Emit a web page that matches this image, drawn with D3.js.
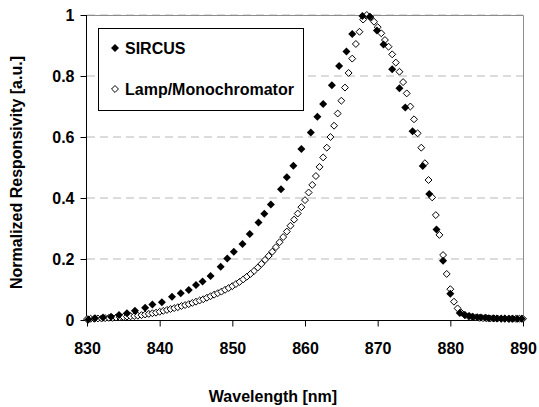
<!DOCTYPE html>
<html>
<head>
<meta charset="utf-8">
<script src="https://cdn.jsdelivr.net/npm/d3@7"></script>
<style>
  body { margin: 0; background: #fff; }
  text { font-family: "Liberation Sans", Arial, sans-serif; font-weight: bold; fill: #000; }
</style>
</head>
<body>
<svg id="chart"></svg>
<script>
// SIRCUS measurement (wavelength nm, normalized responsivity)
const sircusWavelengths = [
  830.2, 831.1, 832.2, 833.3, 834.4, 835.5, 836.6, 838.0, 839.0, 840.3,
  841.7, 842.9, 844.0, 845.0, 845.9, 847.0, 848.4, 849.3, 850.2, 851.4,
  852.4, 853.6, 854.4, 855.3, 856.7, 857.5, 858.4, 859.5, 860.8, 861.7,
  862.5, 863.7, 864.7, 865.7, 866.5, 867.9, 868.9, 869.9, 870.8, 872.0,
  873.0, 873.8, 874.8, 876.2, 877.1, 878.1, 879.0, 880.0, 881.3, 882.0,
  882.6, 883.1, 883.7, 884.2, 884.8, 885.3, 885.9, 886.4, 887.0, 887.5,
  888.1, 888.6, 889.2, 889.8
];
const sircusValues = [
  0.002, 0.006, 0.008, 0.011, 0.016, 0.022, 0.030, 0.040, 0.051, 0.058,
  0.076, 0.088, 0.098, 0.115, 0.126, 0.144, 0.175, 0.202, 0.224, 0.249,
  0.282, 0.320, 0.348, 0.379, 0.429, 0.468, 0.506, 0.561, 0.615, 0.666,
  0.708, 0.770, 0.833, 0.880, 0.938, 0.997, 0.994, 0.949, 0.903, 0.822,
  0.760, 0.697, 0.619, 0.505, 0.413, 0.297, 0.194, 0.086, 0.023, 0.016,
  0.013, 0.011, 0.009, 0.008, 0.007, 0.006, 0.006, 0.005, 0.005, 0.005,
  0.004, 0.004, 0.004, 0.004
];

// Lamp/Monochromator measurement, 0.5 nm steps
const lampWavelengths = [
  830.0, 830.5, 831.0, 831.5, 832.0, 832.5, 833.0, 833.5, 834.0, 834.5,
  835.0, 835.5, 836.0, 836.5, 837.0, 837.5, 838.0, 838.5, 839.0, 839.5,
  840.0, 840.5, 841.0, 841.5, 842.0, 842.5, 843.0, 843.5, 844.0, 844.5,
  845.0, 845.5, 846.0, 846.5, 847.0, 847.5, 848.0, 848.5, 849.0, 849.5,
  850.0, 850.5, 851.0, 851.5, 852.0, 852.5, 853.0, 853.5, 854.0, 854.5,
  855.0, 855.5, 856.0, 856.5, 857.0, 857.5, 858.0, 858.5, 859.0, 859.5,
  860.0, 860.5, 861.0, 861.5, 862.0, 862.5, 863.0, 863.5, 864.0, 864.5,
  865.0, 865.5, 866.0, 866.5, 867.0, 867.5, 868.0, 868.5, 869.0, 869.5,
  870.0, 870.5, 871.0, 871.5, 872.0, 872.5, 873.0, 873.5, 874.0, 874.5,
  875.0, 875.5, 876.0, 876.5, 877.0, 877.5, 878.0, 878.5, 879.0, 879.5,
  880.0, 880.5, 881.0, 881.5, 882.0, 882.5, 883.0, 883.5, 884.0, 884.5,
  885.0, 885.5, 886.0, 886.5, 887.0, 887.5, 888.0, 888.5, 889.0, 889.5,
  890.0
];
const lampValues = [
  0.003, 0.004, 0.004, 0.005, 0.005, 0.006, 0.007, 0.007, 0.008, 0.009,
  0.010, 0.011, 0.012, 0.013, 0.014, 0.016, 0.018, 0.020, 0.022, 0.024,
  0.027, 0.030, 0.033, 0.036, 0.039, 0.042, 0.046, 0.049, 0.052, 0.056,
  0.060, 0.064, 0.068, 0.073, 0.078, 0.083, 0.088, 0.093, 0.099, 0.105,
  0.111, 0.118, 0.125, 0.133, 0.142, 0.151, 0.161, 0.172, 0.184, 0.197,
  0.210, 0.224, 0.239, 0.255, 0.272, 0.290, 0.309, 0.329, 0.349, 0.370,
  0.393, 0.418, 0.443, 0.472, 0.502, 0.533, 0.565, 0.600, 0.637, 0.677,
  0.719, 0.762, 0.810, 0.857, 0.905, 0.945, 0.985, 1.000, 0.993, 0.978,
  0.960, 0.940, 0.918, 0.896, 0.871, 0.844, 0.814, 0.780, 0.743, 0.700,
  0.658, 0.612, 0.565, 0.514, 0.459, 0.402, 0.344, 0.279, 0.213, 0.151,
  0.101, 0.060, 0.038, 0.024, 0.016, 0.012, 0.010, 0.008, 0.007, 0.006,
  0.006, 0.005, 0.005, 0.005, 0.004, 0.004, 0.004, 0.004, 0.004, 0.004,
  0.004
];

const xTicks = [830, 840, 850, 860, 870, 880, 890];
const yTicks = [0, 0.2, 0.4, 0.6, 0.8, 1];
const seriesNames = ["SIRCUS", "Lamp/Monochromator"];

const width = 539;
const height = 407;
const plotLeft = 87;
const plotRight = 523;
const plotTop = 15;
const plotBottom = 320;
const fontSize = 16;

const svg = d3.select("#chart")
    .attr("width", width)
    .attr("height", height);

const x = d3.scaleLinear().domain([830, 890]).range([plotLeft, plotRight]);
const y = d3.scaleLinear().domain([0, 1]).range([plotBottom, plotTop]);

// square diamond like the spreadsheet marker
const diamond = {
  draw(context, size) {
    const r = Math.sqrt(size / 2);
    context.moveTo(0, -r);
    context.lineTo(r, 0);
    context.lineTo(0, r);
    context.lineTo(-r, 0);
    context.closePath();
  }
};
const filledMarker = d3.symbol().type(diamond).size(32)();
const openMarker = d3.symbol().type(diamond).size(24)();

// grid lines
svg.append("g")
    .selectAll("line")
    .data(yTicks.filter(d => d > 0))
    .join("line")
        .attr("x1", plotLeft)
        .attr("x2", plotRight)
        .attr("y1", d => y(d))
        .attr("y2", d => y(d))
        .attr("stroke", "#b8b8b8")
        .attr("stroke-width", 1)
        .attr("stroke-dasharray", "8,5");

// plot frame top and right
svg.append("path")
    .attr("d", `M${plotLeft},${plotTop + 0.5}H${plotRight + 0.5}V${plotBottom}`)
    .attr("fill", "none")
    .attr("stroke", "#8c8c8c")
    .attr("stroke-width", 1);

// axes
const xAxis = svg.append("g")
    .attr("transform", `translate(0,${plotBottom + 0.5})`)
    .call(d3.axisBottom(x).tickValues(xTicks).tickSize(6).tickPadding(16).tickFormat(d3.format("d")));

const yAxis = svg.append("g")
    .attr("transform", `translate(${plotLeft - 0.5},0)`)
    .call(d3.axisLeft(y).tickValues(yTicks).tickSize(6).tickPadding(6).tickFormat(d => d === 0 || d === 1 ? d : d3.format(".1f")(d)));

[xAxis, yAxis].forEach(a => {
  a.select(".domain").attr("stroke", "#000");
  a.selectAll(".tick line").attr("stroke", "#000");
  a.selectAll(".tick text")
      .attr("font-size", fontSize)
      .attr("font-family", "Liberation Sans, Arial, sans-serif")
      .attr("font-weight", "bold");
});
xAxis.select(".domain").attr("d", `M${plotLeft},0H${plotRight}`);
yAxis.select(".domain").attr("d", `M0,${plotTop}V${plotBottom}`);

// Lamp/Monochromator series (open diamonds)
svg.append("g")
    .selectAll("path")
    .data(lampWavelengths.map((w, i) => [w, lampValues[i]]))
    .join("path")
        .attr("d", openMarker)
        .attr("transform", d => `translate(${x(d[0])},${y(d[1])})`)
        .attr("fill", "#fff")
        .attr("stroke", "#000")
        .attr("stroke-width", 1);

// SIRCUS series (filled diamonds)
svg.append("g")
    .selectAll("path")
    .data(sircusWavelengths.map((w, i) => [w, sircusValues[i]]))
    .join("path")
        .attr("d", filledMarker)
        .attr("transform", d => `translate(${x(d[0])},${y(d[1])})`)
        .attr("fill", "#000");

// axis titles
svg.append("text")
    .attr("x", 273)
    .attr("y", 402)
    .attr("text-anchor", "middle")
    .attr("font-size", fontSize)
    .text("Wavelength [nm]");

svg.append("text")
    .attr("transform", `translate(22,${(plotTop + plotBottom) / 2 + 5}) rotate(-90)`)
    .attr("text-anchor", "middle")
    .attr("font-size", fontSize)
    .text("Normalized Responsivity [a.u.]");

// legend
const legend = svg.append("g");
legend.append("rect")
    .attr("x", 98.5)
    .attr("y", 28.5)
    .attr("width", 205)
    .attr("height", 82)
    .attr("fill", "#fff")
    .attr("stroke", "#000")
    .attr("stroke-width", 1);

const legendRows = legend.selectAll("g")
    .data(seriesNames)
    .join("g")
        .attr("transform", (d, i) => `translate(115,${48 + i * 41})`);

legendRows.append("path")
    .attr("d", (d, i) => i === 0 ? filledMarker : openMarker)
    .attr("fill", (d, i) => i === 0 ? "#000" : "#fff")
    .attr("stroke", (d, i) => i === 0 ? "none" : "#000");

legendRows.append("text")
    .attr("x", 10)
    .attr("dy", "0.36em")
    .attr("font-size", fontSize)
    .text(d => d);
</script>
</body>
</html>
